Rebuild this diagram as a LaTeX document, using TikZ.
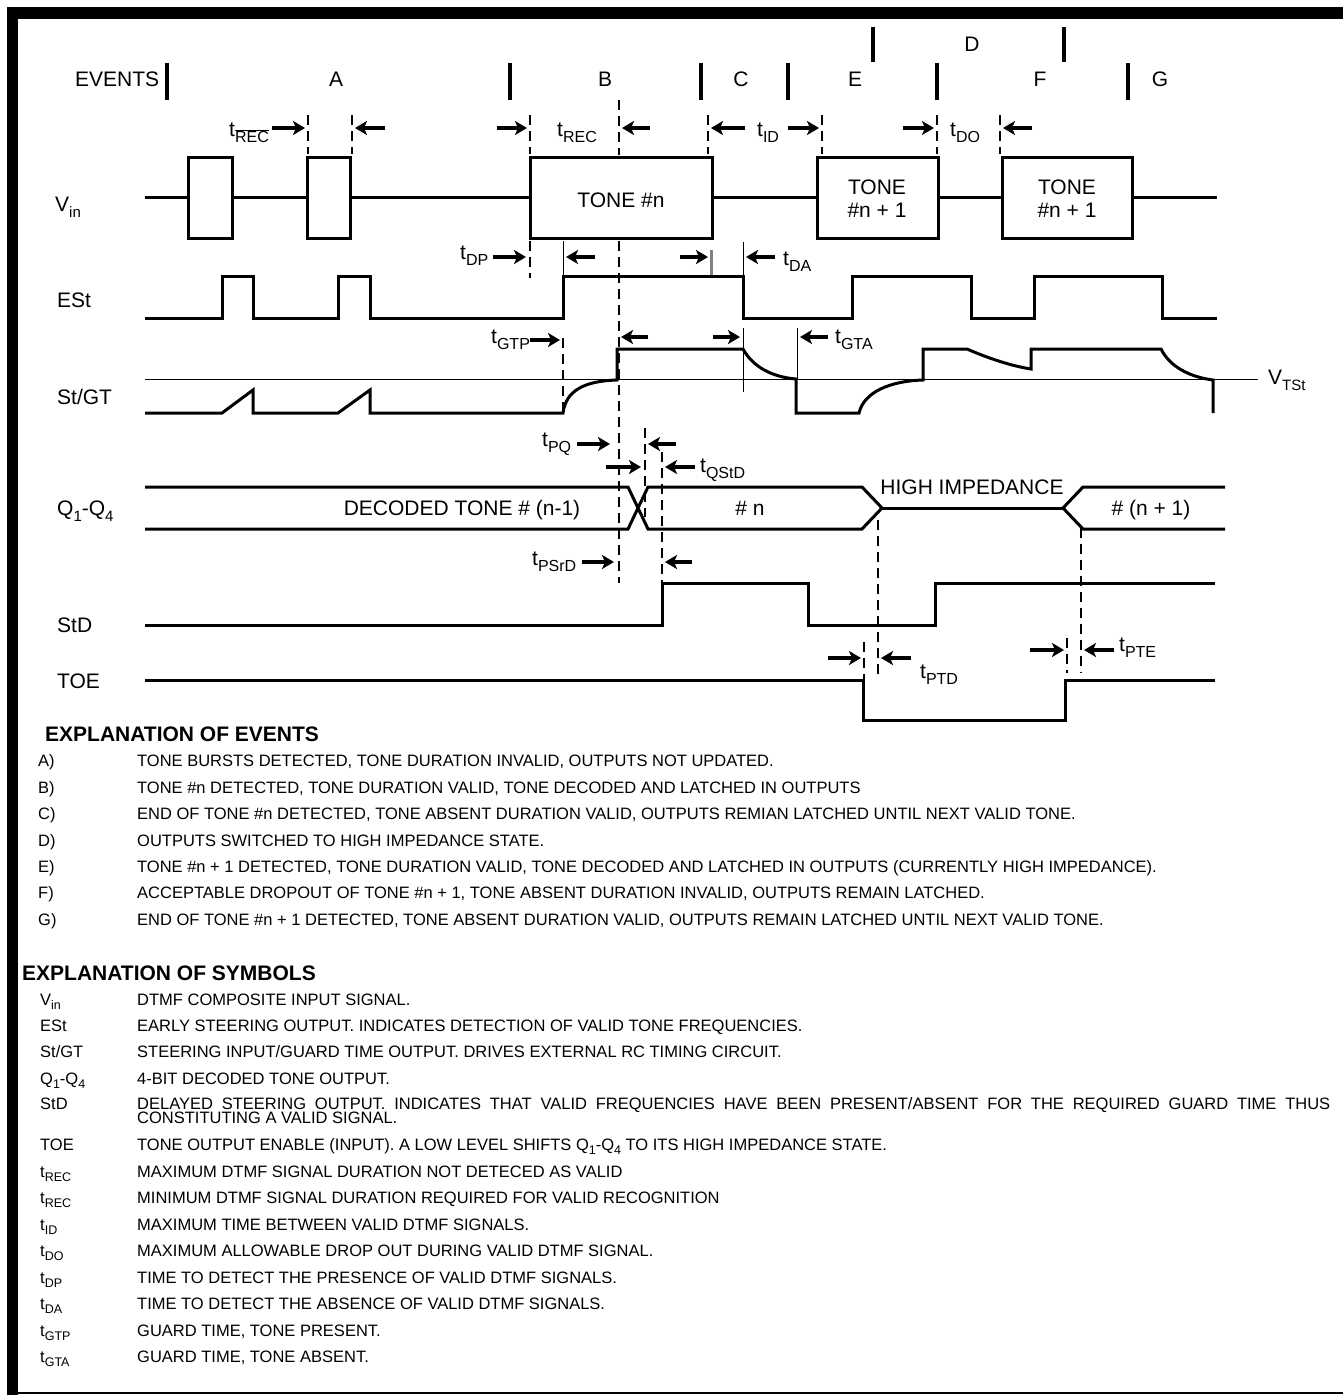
\documentclass[tikz,border=0pt]{standalone}
\usepackage{fontspec}
\setmainfont{Liberation Sans}
\usetikzlibrary{arrows.meta}
\newcommand\SB[2]{\raisebox{-0.3em}{\fontsize{#1}{#1}\selectfont #2}}
\newcommand\DL{\fontsize{21}{25}\selectfont}
\newcommand\LS{\fontsize{16.5}{19}\selectfont}
\newcommand\tl[1]{t\SB{16}{#1}}
\newcommand\tq[1]{t\SB{12.5}{#1}}
\begin{document}
\begin{tikzpicture}[x=1pt,y=-1pt,
 sig/.style={line width=3pt, line join=miter},
 evbar/.style={line width=3.5pt},
 thn/.style={line width=1pt},
 dsh/.style={line width=1.1pt, dash pattern=on 10pt off 6pt},
 arr/.style={line width=3.5pt, -{Stealth[length=12pt,width=14pt,inset=3pt]}},
 lbl/.style={inner sep=0pt, font=\DL, anchor=base west},
 ctr/.style={inner sep=0pt, font=\DL, anchor=base},
 lst/.style={inner sep=0pt, font=\LS, anchor=base west},
 hd/.style={inner sep=0pt, font=\fontsize{21}{25}\selectfont\bfseries, anchor=base west}]
\useasboundingbox (0,0) rectangle (1343,1395);
% frame
\fill (7,7) rectangle (1343,19);
\fill (7,7) rectangle (18,1395);
\draw[line width=2pt] (7,1393) -- (1343,1393);
% events row
\foreach \x in {167,510,701,788,937,1128} \draw[evbar] (\x,63) -- (\x,100);
\foreach \x in {873,1064} \draw[evbar] (\x,27) -- (\x,62);
\node[lbl] (ev) at (75,86) {EVENTS};
\node[ctr] (eA) at (336,86) {A};
\node[ctr] (eB) at (605,86) {B};
\node[ctr] (eC) at (741,86) {C};
\node[ctr] (eE) at (855,86) {E};
\node[ctr] (eF) at (1040,86) {F};
\node[ctr] (eG) at (1160,86) {G};
\node[ctr] (eD) at (972,51) {D};
% dashed guides
\foreach \x in {308,352,530,708,822,937,1000} \draw[dsh] (\x,115) -- (\x,154);
\draw[dsh] (619,100) -- (619,155);
\draw[dsh] (530,241) -- (530,278);
\draw[dsh] (619,241) -- (619,583);
\draw[thn] (563,241) -- (563,276);
\draw[gray, line width=3pt] (711,250) -- (711,276);
\draw[thn] (743,242) -- (743,276);
\draw[dsh] (563,338) -- (563,415);
\draw[thn] (743,328) -- (743,392);
\draw[thn] (797,328) -- (797,380);
\draw[dsh] (645,428) -- (645,517);
\draw[dsh] (662,452) -- (662,583);
\draw[dsh] (878,520) -- (878,677);
\draw[dsh] (1081,528) -- (1081,673);
\draw[dsh] (864,642) -- (864,682);
\draw[dsh] (1067,638) -- (1067,673);
% timing arrows row 1
\node[lbl] (trecb) at (229,136) {t\SB{16}{$\overline{\hbox{REC}}$}};
\draw[arr] (272,128) -- (305,128);
\draw[arr] (385,128) -- (355,128);
\draw[arr] (497,128) -- (527,128);
\node[lbl] (trec) at (557,136) {\tl{REC}};
\draw[arr] (650,128) -- (622,128);
\draw[arr] (745,128) -- (711,128);
\node[lbl] (tid) at (757,136) {\tl{ID}};
\draw[arr] (788,128) -- (819,128);
\draw[arr] (903,128) -- (934,128);
\node[lbl] (tdo) at (950,136) {\tl{DO}};
\draw[arr] (1032,128) -- (1003,128);
% Vin
\node[lbl] (lvin) at (55,211) {V\SB{15}{in}};
\draw[sig] (145,197) -- (188,197) (232,197) -- (307,197) (350,197) -- (530,197)
  (712,197) -- (817,197) (938,197) -- (1002,197) (1132,197) -- (1217,197);
\draw[sig] (188,157) rectangle (232,238);
\draw[sig] (307,157) rectangle (350,238);
\draw[sig] (530,157) rectangle (712,238);
\draw[sig] (817,157) rectangle (938,238);
\draw[sig] (1002,157) rectangle (1132,238);
\node[ctr] (tn) at (621,207) {TONE \#n};
\node[ctr] (tn1a) at (877,194) {TONE};
\node[ctr] (tn1b) at (877,217) {\#n + 1};
\node[ctr] (tn2a) at (1067,194) {TONE};
\node[ctr] (tn2b) at (1067,217) {\#n + 1};
% tDP row
\node[lbl] (tdp) at (460,259) {\tl{DP}};
\draw[arr] (493,257) -- (526,257);
\draw[arr] (595,257) -- (566,257);
\draw[arr] (680,257) -- (708,257);
\draw[arr] (775,257) -- (746,257);
\node[lbl] (tda) at (783,265) {\tl{DA}};
% ESt
\node[lbl] (lest) at (57,307) {ESt};
\draw[sig] (145,318) -| (222,276) -| (253,318) -| (338,276) -| (370,318) -| (563,276)
  -| (743,318) -| (852,276) -| (971,318) -| (1034,276) -| (1162,318) -- (1217,318);
% tGTP row
\node[lbl] (tgtp) at (491,343) {\tl{GTP}};
\draw[arr] (530,340) -- (560,340);
\draw[arr] (648,337) -- (621,337);
\draw[arr] (713,337) -- (740,337);
\draw[arr] (828,337) -- (800,337);
\node[lbl] (tgta) at (835,343) {\tl{GTA}};
% St/GT
\node[lbl] (lst) at (57,404) {St/GT};
\draw[thn] (145,379) -- (1258,379);
\node[lbl] (vtst) at (1268,384) {V\SB{15}{TSt}};
\draw[sig] (145,413) -- (222,413) -- (253,390) -- (253,413) -- (338,413) -- (370,390) -- (370,413)
  -- (563,413) .. controls (566,390) and (585,381) .. (617,380) -- (617,349) -- (743,349)
  .. controls (753,367) and (772,377) .. (796,379) -- (796,413) -- (859,413)
  .. controls (864,392) and (890,381) .. (923,380) -- (923,349) -- (967,349)
  .. controls (990,359) and (1012,366) .. (1031,369) -- (1031,349) -- (1161,349)
  .. controls (1170,367) and (1190,377) .. (1213,380) -- (1213,413);
% tPQ, tQStD
\node[lbl] (tpq) at (542,446) {\tl{PQ}};
\draw[arr] (577,444) -- (610,444);
\draw[arr] (676,444) -- (648,444);
\draw[arr] (606,467) -- (641,467);
\draw[arr] (695,467) -- (665,467);
\node[lbl] (tqstd) at (700,472) {\tl{QStD}};
% Q bus
\node[lbl] (lq) at (57,515) {Q\SB{15}{1}-Q\SB{15}{4}};
\draw[sig] (145,487) -- (628,487) -- (648,529) -- (862,529) -- (882,508);
\draw[sig] (145,529) -- (628,529) -- (648,487) -- (862,487) -- (882,508);
\draw[sig] (882,508) -- (1063,508);
\draw[sig] (1063,508) -- (1083,487) -- (1225,487);
\draw[sig] (1063,508) -- (1083,529) -- (1225,529);
\node[ctr] (qa) at (462,515) {DECODED TONE \# (n-1)};
\node[ctr] (qb) at (750,515) {\# n};
\node[ctr] (qc) at (972,494) {HIGH IMPEDANCE};
\node[ctr] (qd) at (1151,515) {\# (n + 1)};
% tPSrD
\node[lbl] (tpsrd) at (532,565) {\tl{PSrD}};
\draw[arr] (582,562) -- (614,562);
\draw[arr] (692,562) -- (665,562);
% StD
\node[lbl] (lstd) at (57,632) {StD};
\draw[sig] (145,625) -- (662,625) -- (662,583) -- (808,583) -- (808,625) -- (935,625) -- (935,583) -- (1215,583);
% tPTD / tPTE
\draw[arr] (828,658) -- (861,658);
\draw[arr] (911,658) -- (881,658);
\node[lbl] (tptd) at (920,678) {\tl{PTD}};
\draw[arr] (1030,650) -- (1064,650);
\draw[arr] (1114,650) -- (1084,650);
\node[lbl] (tpte) at (1119,651) {\tl{PTE}};
% TOE
\node[lbl] (ltoe) at (57,688) {TOE};
\draw[sig] (145,680) -- (863,680) -- (863,720) -- (1065,720) -- (1065,680) -- (1215,680);
% explanation of events
\node[hd] (h1) at (45,741) {EXPLANATION OF EVENTS};
\node[lst] (a1) at (38,766) {A)};
\node[lst] (a2) at (137,766) {TONE BURSTS DETECTED, TONE DURATION INVALID, OUTPUTS NOT UPDATED.};
\node[lst] (b1) at (38,793) {B)};
\node[lst] (b2) at (137,793) {TONE \#n DETECTED, TONE DURATION VALID, TONE DECODED AND LATCHED IN OUTPUTS};
\node[lst] (c1) at (38,819) {C)};
\node[lst] (c2) at (137,819) {END OF TONE \#n DETECTED, TONE ABSENT DURATION VALID, OUTPUTS REMIAN LATCHED UNTIL NEXT VALID TONE.};
\node[lst] (d1) at (38,846) {D)};
\node[lst] (d2) at (137,846) {OUTPUTS SWITCHED TO HIGH IMPEDANCE STATE.};
\node[lst] (e1) at (38,872) {E)};
\node[lst] (e2) at (137,872) {TONE \#n + 1 DETECTED, TONE DURATION VALID, TONE DECODED AND LATCHED IN OUTPUTS (CURRENTLY HIGH IMPEDANCE).};
\node[lst] (f1) at (38,898) {F)};
\node[lst] (f2) at (137,898) {ACCEPTABLE DROPOUT OF TONE \#n + 1, TONE ABSENT DURATION INVALID, OUTPUTS REMAIN LATCHED.};
\node[lst] (g1) at (38,925) {G)};
\node[lst] (g2) at (137,925) {END OF TONE \#n + 1 DETECTED, TONE ABSENT DURATION VALID, OUTPUTS REMAIN LATCHED UNTIL NEXT VALID TONE.};
% explanation of symbols
\node[hd] (h2) at (22,980) {EXPLANATION OF SYMBOLS};
\node[lst] (s1) at (40,1005) {V\SB{12.5}{in}};
\node[lst] (s1d) at (137,1005) {DTMF COMPOSITE INPUT SIGNAL.};
\node[lst] (s2) at (40,1031) {ESt};
\node[lst] (s2d) at (137,1031) {EARLY STEERING OUTPUT. INDICATES DETECTION OF VALID TONE FREQUENCIES.};
\node[lst] (s3) at (40,1057) {St/GT};
\node[lst] (s3d) at (137,1057) {STEERING INPUT/GUARD TIME OUTPUT. DRIVES EXTERNAL RC TIMING CIRCUIT.};
\node[lst] (s4) at (40,1084) {Q\SB{12.5}{1}-Q\SB{12.5}{4}};
\node[lst] (s4d) at (137,1084) {4-BIT DECODED TONE OUTPUT.};
\node[lst] (s5) at (40,1109) {StD};
\node[lst] (s5d) at (137,1109) {\makebox[1193pt][s]{DELAYED STEERING OUTPUT. INDICATES THAT VALID FREQUENCIES HAVE BEEN PRESENT/ABSENT FOR THE REQUIRED GUARD TIME THUS}};
\node[lst] (s5e) at (137,1123) {CONSTITUTING A VALID SIGNAL.};
\node[lst] (s6) at (40,1150) {TOE};
\node[lst] (s6d) at (137,1150) {TONE OUTPUT ENABLE (INPUT). A LOW LEVEL SHIFTS Q\SB{12.5}{1}-Q\SB{12.5}{4} TO ITS HIGH IMPEDANCE STATE.};
\node[lst] (s7) at (40,1177) {\tq{REC}};
\node[lst] (s7d) at (137,1177) {MAXIMUM DTMF SIGNAL DURATION NOT DETECED AS VALID};
\node[lst] (s8) at (40,1203) {\tq{REC}};
\node[lst] (s8d) at (137,1203) {MINIMUM DTMF SIGNAL DURATION REQUIRED FOR VALID RECOGNITION};
\node[lst] (s9) at (40,1230) {\tq{ID}};
\node[lst] (s9d) at (137,1230) {MAXIMUM TIME BETWEEN VALID DTMF SIGNALS.};
\node[lst] (s10) at (40,1256) {\tq{DO}};
\node[lst] (s10d) at (137,1256) {MAXIMUM ALLOWABLE DROP OUT DURING VALID DTMF SIGNAL.};
\node[lst] (s11) at (40,1283) {\tq{DP}};
\node[lst] (s11d) at (137,1283) {TIME TO DETECT THE PRESENCE OF VALID DTMF SIGNALS.};
\node[lst] (s12) at (40,1309) {\tq{DA}};
\node[lst] (s12d) at (137,1309) {TIME TO DETECT THE ABSENCE OF VALID DTMF SIGNALS.};
\node[lst] (s13) at (40,1336) {\tq{GTP}};
\node[lst] (s13d) at (137,1336) {GUARD TIME, TONE PRESENT.};
\node[lst] (s14) at (40,1362) {\tq{GTA}};
\node[lst] (s14d) at (137,1362) {GUARD TIME, TONE ABSENT.};
\end{tikzpicture}
\end{document}
